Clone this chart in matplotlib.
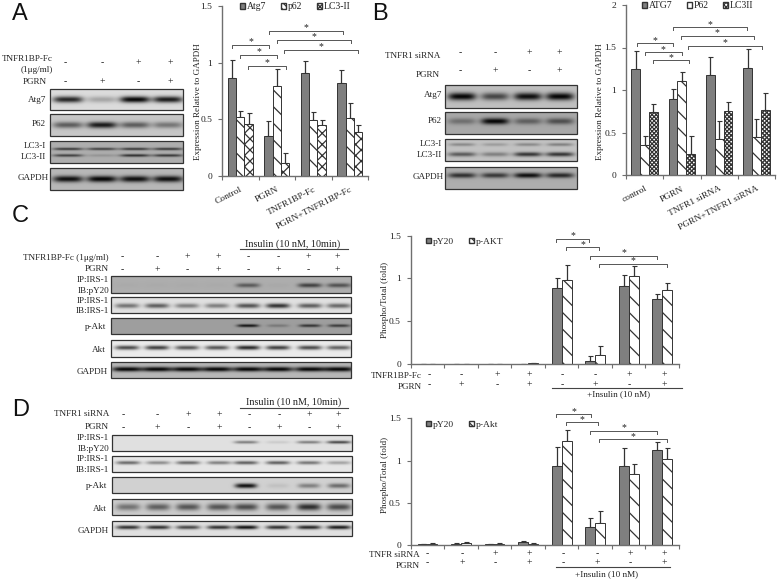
import numpy as np
import matplotlib
matplotlib.use("Agg")
import matplotlib.pyplot as plt
from matplotlib.patches import Patch, Rectangle

plt.rcParams['font.family'] = ['Liberation Serif', 'DejaVu Serif']
plt.rcParams['hatch.linewidth'] = 0.9
W, H = 777, 580

# ---------- chart data ----------
a_cats = ["Control", "PGRN", "TNFR1BP-Fc", "PGRN+TNFR1BP-Fc"]
a_atg7 = [0.86, 0.35, 0.91, 0.82]
a_atg7_err = [0.165, 0.13, 0.10, 0.11]
a_p62 = [0.52, 0.79, 0.49, 0.51]
a_p62_err = [0.055, 0.15, 0.07, 0.13]
a_lc3 = [0.46, 0.11, 0.45, 0.39]
a_lc3_err = [0.095, 0.095, 0.04, 0.06]

b_cats = ["control", "PGRN", "TNFR1 siRNA", "PGRN+TNFR1 siRNA"]
b_atg7 = [1.25, 0.90, 1.18, 1.26]
b_atg7_err = [0.21, 0.11, 0.21, 0.22]
b_p62 = [0.35, 1.11, 0.42, 0.45]
b_p62_err = [0.11, 0.10, 0.21, 0.21]
b_lc3 = [0.74, 0.25, 0.75, 0.76]
b_lc3_err = [0.10, 0.21, 0.11, 0.20]

c_py20 = [0, 0, 0, 0, 0.89, 0.03, 0.91, 0.76]
c_py20_err = [0, 0, 0, 0, 0.12, 0.065, 0.13, 0.06]
c_pakt = [0, 0, 0, 0.01, 0.98, 0.10, 1.03, 0.86]
c_pakt_err = [0, 0, 0, 0, 0.18, 0.105, 0.12, 0.09]

d_py20 = [0.01, 0.02, 0.01, 0.04, 0.94, 0.22, 0.94, 1.12]
d_py20_err = [0.005, 0.005, 0.005, 0.01, 0.22, 0.10, 0.21, 0.10]
d_pakt = [0.02, 0.03, 0.02, 0.02, 1.23, 0.26, 0.84, 1.02]
d_pakt_err = [0.005, 0.01, 0.005, 0.005, 0.13, 0.15, 0.12, 0.13]

# ---------- sign rows ----------
signs4_treat = ["-", "-", "+", "+"]
signs4_pgrn = ["-", "+", "-", "+"]
signs8_treat = ["-", "-", "+", "+", "-", "-", "+", "+"]
signs8_pgrn = ["-", "+", "-", "+", "-", "+", "-", "+"]

# ---------- blot band strengths per lane ----------
ab_atg7 = [0.85, 0.25, 1.00, 0.90]
ab_p62 = [0.55, 0.90, 0.55, 0.42]
ab_lc3i = [0.70, 0.65, 0.70, 0.70]
ab_lc3ii = [0.65, 0.15, 0.75, 0.70]
ab_gapdh = [0.95, 1.00, 0.95, 0.95]

bb_atg7 = [1.00, 0.65, 0.95, 1.00]
bb_p62 = [0.35, 1.00, 0.45, 0.55]
bb_lc3i = [0.30, 0.20, 0.30, 0.35]
bb_lc3ii = [0.55, 0.35, 0.75, 0.75]
bb_gapdh = [0.75, 0.70, 0.95, 0.80]

cb_py20 = [0.02, 0.02, 0.02, 0.02, 0.50, 0.03, 0.65, 0.55]
cb_irs = [0.50, 0.60, 0.45, 0.45, 0.65, 0.80, 0.60, 0.55]
cb_pakt = [0, 0, 0, 0, 0.90, 0.25, 0.70, 0.65]
cb_akt = [0.70, 0.75, 0.65, 0.65, 0.85, 0.75, 0.70, 0.60]
cb_gapdh = [1.0, 1.0, 1.0, 1.0, 1.0, 1.0, 1.0, 1.0]

db_py20 = [0, 0, 0, 0, 0.45, 0.10, 0.45, 0.70]
db_irs = [0.55, 0.40, 0.55, 0.45, 0.60, 0.60, 0.50, 0.30]
db_pakt = [0, 0, 0, 0, 0.95, 0.08, 0.40, 0.50]
db_akt = [0.45, 0.55, 0.60, 0.60, 0.65, 0.60, 0.80, 0.65]
db_gapdh = [0.80, 0.80, 0.70, 0.80, 0.95, 0.80, 0.85, 0.90]

fig = plt.figure(figsize=(W / 100, H / 100), dpi=100, facecolor='white')
AXC = '#6f6f6f'
GRAY = '#7f7f7f'
EDGE = '#333333'
FS = 6.6


def make_axes(x0, x1, ytop, ybot):
    ax = fig.add_axes([x0 / W, 1 - ybot / H, (x1 - x0) / W, (ybot - ytop) / H])
    ax.patch.set_alpha(0)
    for s in ('top', 'right'):
        ax.spines[s].set_visible(False)
    for s in ('left', 'bottom'):
        ax.spines[s].set_color(AXC)
        ax.spines[s].set_linewidth(1.0)
    return ax


def bars(ax, series, width):
    n = len(series[0][0])
    x = np.arange(n)
    m = len(series)
    for i, (vals, errs, face, hatch) in enumerate(series):
        pos = x + (i - (m - 1) / 2) * width
        ax.bar(pos, vals, width, color=face, edgecolor=EDGE, hatch=hatch, linewidth=0.7, zorder=2)
        ax.errorbar(pos, vals, yerr=[np.zeros(n), errs], fmt='none', ecolor=EDGE,
                    elinewidth=0.9, capsize=1.8, capthick=0.8, zorder=1)
    ax.set_xlim(-0.5, n - 0.5)
    ax.set_xticks(np.arange(n + 1) - 0.5, minor=True)
    ax.tick_params(axis='x', which='minor', length=3, color=AXC, width=0.8, direction='out')
    ax.tick_params(axis='y', length=3, color=AXC, width=0.8, labelsize=6.8, pad=4, labelcolor='#222222')
    ax.tick_params(axis='x', which='major', length=0)


def legend(ax, handles, anchor, fs, colsp):
    ax.legend(handles=handles, ncol=len(handles), frameon=False, fontsize=fs, loc='center left',
              bbox_to_anchor=anchor, handlelength=0.5, handleheight=0.5, handletextpad=0.2,
              columnspacing=colsp, borderpad=0, borderaxespad=0, labelcolor='#222222')


fmt = ['0', '0.5', '1', '1.5']

# Panel A chart
axA = make_axes(222, 368, 6, 175.7)
bars(axA, [(a_atg7, a_atg7_err, GRAY, None), (a_p62, a_p62_err, 'white', '\\\\'),
           (a_lc3, a_lc3_err, 'white', 'xxx')], 0.23)
axA.set_ylim(0, 1.5)
axA.set_yticks([0, 0.5, 1, 1.5], fmt)
axA.set_xticks(range(4), a_cats, rotation=27, ha='right', rotation_mode='anchor', fontsize=6.8, color='#222222')
axA.tick_params(axis='x', which='major', pad=7)
legend(axA, [Patch(facecolor=GRAY, edgecolor=EDGE, label='Atg7'),
             Patch(facecolor='white', edgecolor=EDGE, hatch='\\\\\\\\\\', label='p62'),
             Patch(facecolor='white', edgecolor=EDGE, hatch='xxxxx', label='LC3-II')],
       (0.125, 0.995), 7, 1.5)

# Panel B chart
axB = make_axes(626, 775, 5, 175)
bars(axB, [(b_atg7, b_atg7_err, GRAY, None), (b_p62, b_p62_err, 'white', '\\\\'),
           (b_lc3, b_lc3_err, 'white', 'xxxxxxxx')], 0.235)
axB.set_ylim(0, 2)
axB.set_yticks([0, 0.5, 1, 1.5, 2], ['0', '0.5', '1', '1.5', '2'])
axB.set_xticks(range(4), b_cats, rotation=27, ha='right', rotation_mode='anchor', fontsize=6.8, color='#222222')
axB.tick_params(axis='x', which='major', pad=7)
legend(axB, [Patch(facecolor=GRAY, edgecolor=EDGE, label='ATG7'),
             Patch(facecolor='white', edgecolor=EDGE, label='P62'),
             Patch(facecolor='white', edgecolor=EDGE, hatch='xxxxxxx', label='LC3II')],
       (0.105, 0.995), 7, 1.5)

# Panel C chart
axC = make_axes(410.7, 679, 235.7, 363.7)
bars(axC, [(c_py20, c_py20_err, GRAY, None), (c_pakt, c_pakt_err, 'white', '\\\\')], 0.295)
axC.set_ylim(0, 1.5)
axC.set_yticks([0, 0.5, 1, 1.5], fmt)
axC.set_xticks([])
legend(axC, [Patch(facecolor=GRAY, edgecolor=EDGE, label='pY20'),
             Patch(facecolor='white', edgecolor=EDGE, hatch='\\\\\\\\\\', label='p-AKT')],
       (0.058, 0.95), 6.8, 1.6)

# Panel D chart
axD = make_axes(410.7, 679, 418.3, 545.3)
bars(axD, [(d_py20, d_py20_err, GRAY, None), (d_pakt, d_pakt_err, 'white', '\\\\')], 0.295)
axD.set_ylim(0, 1.5)
axD.set_yticks([0, 0.5, 1, 1.5], fmt)
axD.set_xticks([])
legend(axD, [Patch(facecolor=GRAY, edgecolor=EDGE, label='pY20'),
             Patch(facecolor='white', edgecolor=EDGE, hatch='\\\\\\\\\\', label='p-Akt')],
       (0.058, 0.95), 6.8, 1.6)

# Pixel-space overlay for annotations and blots
ov = fig.add_axes([0, 0, 1, 1], zorder=10)
ov.patch.set_alpha(0)
ov.axis('off')


def T(x, y, s, ha='right', fs=FS, **kw):
    ov.text(x, y, s, ha=ha, va='center', fontsize=fs, color=kw.pop('color', '#222222'), **kw)


def letter(x, y, s):
    ov.text(x, y, s, ha='left', va='center', fontsize=17, family='Liberation Sans', color='#111111')


def signs(xs, y, vals):
    for xx, v in zip(xs, vals):
        T(xx, y, v, ha='center', fs=7)


def bracket(x0, x1, y, off=(0, 0), div=3.0):
    ax0, ay = off
    X0 = ax0 + x0 / div
    X1 = ax0 + x1 / div
    Y = ay + y / div
    ov.plot([X0, X0, X1, X1], [Y + 3.0, Y, Y, Y + 3.0], color='#555555', lw=0.7)
    T((X0 + X1) / 2, Y - 3.0, '*', ha='center', fs=7)


def blot(x0, x1, y0, y1, lanes, bands, bg):
    sx = 3
    nx = int((x1 - x0) * sx)
    ny = int((y1 - y0) * sx)
    xx = np.linspace(x0, x1, nx)[None, :]
    yy = np.linspace(y0, y1, ny)[:, None]
    img = np.zeros((ny, nx))
    for frac, strengths, halfw, thick in bands:
        yc = y0 + frac * (y1 - y0)
        for c, s in zip(lanes, strengths):
            img = img + s * np.exp(-((xx - c) / halfw) ** 4) * np.exp(-((yy - yc) / thick) ** 2)
    img = bg * (1 - np.clip(img, 0, 1) * 0.97)
    ov.imshow(img, extent=(x0, x1, y1, y0), cmap='gray', vmin=0, vmax=1, aspect='auto',
              interpolation='bilinear', zorder=1)
    ov.add_patch(Rectangle((x0, y0), x1 - x0, y1 - y0, fill=False, edgecolor='#333333', lw=0.9, zorder=2))


# --- Panel A blots
letter(12, 14, 'A')
la = [68, 102, 135, 168]
T(53, 59, 'TNFR1BP-Fc')
T(53, 70, '(1μg/ml)')
T(47, 82, 'PGRN')
signs([65, 102, 138, 170], 63, signs4_treat)
signs([65, 102, 138, 170], 82, signs4_pgrn)
blot(50, 183, 89, 110, la, [(0.5, ab_atg7, 15, 3.2)], 0.86)
blot(50, 183, 114, 136, la, [(0.5, ab_p62, 15, 3.2)], 0.78)
blot(50, 183, 141, 163, la, [(0.36, ab_lc3i, 15, 1.3), (0.66, ab_lc3ii, 15, 1.4)], 0.68)
blot(50, 183, 168, 190, la, [(0.5, ab_gapdh, 15, 3.2)], 0.72)
T(46, 100, 'Atg7')
T(46, 124, 'P62')
T(46, 146, 'LC3-I')
T(46, 157, 'LC3-II')
T(49, 178, 'GAPDH')

# --- Panel B blots
letter(372, 14, 'B')
lb = [462, 495, 528, 560]
T(440, 56, 'TNFR1 siRNA')
T(440, 75, 'PGRN')
signs([460, 495, 529, 559], 53, signs4_treat)
signs([460, 495, 529, 559], 71, signs4_pgrn)
blot(445, 577, 85, 108, lb, [(0.5, bb_atg7, 14, 3.8)], 0.75)
blot(445, 577, 112, 134, lb, [(0.42, bb_p62, 14, 3.2)], 0.66)
blot(445, 577, 139, 161, lb, [(0.25, bb_lc3i, 13, 1.6), (0.7, bb_lc3ii, 14, 2.2)], 0.76)
blot(445, 577, 167, 189, lb, [(0.38, bb_gapdh, 14, 2.6)], 0.68)
T(442, 95, 'Atg7')
T(442, 121, 'P62')
T(442, 144, 'LC3-I')
T(442, 155, 'LC3-II')
T(444, 177, 'GAPDH')

# --- Panel C blots
letter(12, 216, 'C')
xc = [122, 157, 187, 218, 248, 278, 308, 337]
lc = [127, 157, 187, 217, 248, 278, 310, 339]
T(109, 258, 'TNFR1BP-Fc (1μg/ml)')
T(109, 269, 'PGRN')
signs(xc, 257, signs8_treat)
signs(xc, 270, signs8_pgrn)
T(293, 244, 'Insulin (10 nM, 10min)', ha='center', fs=7.3)
ov.plot([239.5, 347.5], [249, 249], color='#444444', lw=0.8)
blot(111, 351, 276, 293, lc, [(0.55, cb_py20, 12, 2.2)], 0.68)
blot(111, 351, 297, 313, lc, [(0.55, cb_irs, 12, 2.4)], 0.88)
blot(111, 351, 318, 334, lc, [(0.48, cb_pakt, 11, 1.5)], 0.62)
blot(111, 351, 340, 357, lc, [(0.45, cb_akt, 12, 2.2)], 0.92)
blot(111, 351, 362, 378, lc, [(0.45, cb_gapdh, 15, 2.4)], 0.72)
T(109, 280, 'IP:IRS-1')
T(109, 291, 'IB:pY20')
T(109, 301, 'IP:IRS-1')
T(109, 311, 'IB:IRS-1')
T(106, 327, 'p-Akt')
T(106, 350, 'Akt')
T(108, 372, 'GAPDH')

# --- Panel D blots
letter(12, 410, 'D')
xd = [123, 157, 188, 219, 249, 279, 309, 338]
ld = [128, 158, 188, 219, 246, 278, 309, 339]
T(109, 414, 'TNFR1 siRNA')
T(109, 427, 'PGRN')
signs(xd, 415, signs8_treat)
signs(xd, 428, signs8_pgrn)
T(294, 402, 'Insulin (10 nM, 10min)', ha='center', fs=7.3)
ov.plot([240, 348], [408, 408], color='#444444', lw=0.8)
blot(112, 352, 435, 451, ld, [(0.45, db_py20, 12, 1.5)], 0.88)
blot(112, 352, 456, 472, ld, [(0.42, db_irs, 12, 1.8)], 0.90)
blot(112, 352, 477, 493, ld, [(0.55, db_pakt, 11, 2.4)], 0.82)
blot(112, 352, 499, 515, ld, [(0.5, db_akt, 12, 3.5)], 0.80)
blot(112, 352, 521, 536, ld, [(0.42, db_gapdh, 12, 2.0)], 0.88)
T(109, 438, 'IP:IRS-1')
T(109, 449, 'IB:pY20')
T(109, 459, 'IP:IRS-1')
T(109, 470, 'IB:IRS-1')
T(107, 486, 'p-Akt')
T(107, 509, 'Akt')
T(109, 531, 'GAPDH')

# --- chart annotations
T(197.5, 102, 'Expression Relative to GAPDH', ha='center', rotation=90)
T(600, 102, 'Expression Relative to GAPDH', ha='center', rotation=90)
T(385, 300, 'Phospho/Total (fold)', ha='center', rotation=90)
T(385, 475, 'Phospho/Total (fold)', ha='center', rotation=90)

for b in [(697, 808, 135), (720, 832, 165), (745, 857, 197),
          (807, 1030, 92), (832, 1053, 120), (852, 1075, 150)]:
    bracket(*b)
for b in [(740, 850, 130), (764, 876, 157), (788, 898, 181),
          (848, 1070, 82), (872, 1092, 108), (894, 1117, 137)]:
    bracket(*b, off=(390, 0))
for b in [(498, 598, 102), (528, 627, 127), (600, 802, 152), (628, 830, 177)]:
    bracket(*b, off=(390, 205))
for b in [(499, 603, 58), (529, 625, 82), (601, 800, 108), (627, 830, 133)]:
    bracket(*b, off=(390, 395))

sx_c = [390 + v / 3 for v in (118, 215, 322, 418, 518, 617, 718, 822)]
T(422, 376, 'TNFR1BP-Fc')
T(422, 387, 'PGRN')
signs(sx_c, 375, signs8_treat)
signs(sx_c, 385, signs8_pgrn)
ov.plot([551.7, 681.7], [388, 388], color='#444444', lw=0.8)
T(619, 394, '+Insulin (10 nM)', ha='center')

sx_d = [390 + v / 3 for v in (113, 218, 317, 418, 519, 622, 720, 823)]
T(420, 555, 'TNFR siRNA')
T(420, 566, 'PGRN')
signs(sx_d, 554, signs8_treat)
signs(sx_d, 563, signs8_pgrn)
ov.plot([555.7, 670], [567, 567], color='#444444', lw=0.8)
T(607, 574, '+Insulin (10 nM)', ha='center')

ov.set_xlim(0, W)
ov.set_ylim(H, 0)

fig.savefig('out.png', dpi=100)
